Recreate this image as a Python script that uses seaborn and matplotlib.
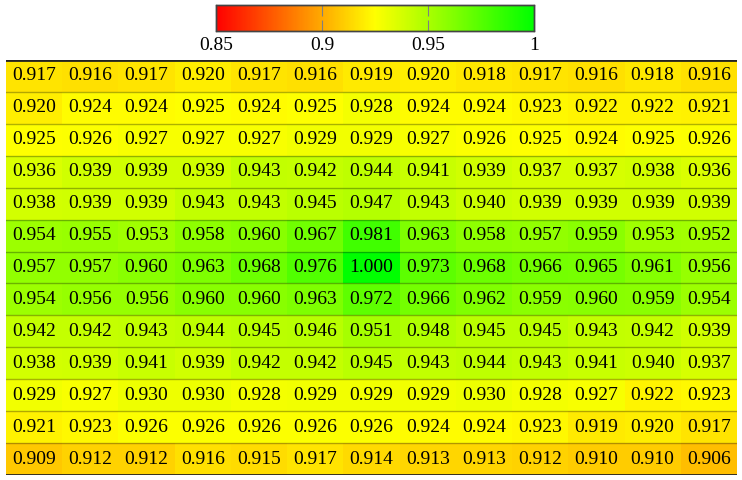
import numpy as np
import matplotlib
matplotlib.use('Agg')
import matplotlib.pyplot as plt
import seaborn as sns
from matplotlib.colors import LinearSegmentedColormap

# values read row by row (top to bottom)
row01 = [0.917, 0.916, 0.917, 0.920, 0.917, 0.916, 0.919, 0.920, 0.918, 0.917, 0.916, 0.918, 0.916]
row02 = [0.920, 0.924, 0.924, 0.925, 0.924, 0.925, 0.928, 0.924, 0.924, 0.923, 0.922, 0.922, 0.921]
row03 = [0.925, 0.926, 0.927, 0.927, 0.927, 0.929, 0.929, 0.927, 0.926, 0.925, 0.924, 0.925, 0.926]
row04 = [0.936, 0.939, 0.939, 0.939, 0.943, 0.942, 0.944, 0.941, 0.939, 0.937, 0.937, 0.938, 0.936]
row05 = [0.938, 0.939, 0.939, 0.943, 0.943, 0.945, 0.947, 0.943, 0.940, 0.939, 0.939, 0.939, 0.939]
row06 = [0.954, 0.955, 0.953, 0.958, 0.960, 0.967, 0.981, 0.963, 0.958, 0.957, 0.959, 0.953, 0.952]
row07 = [0.957, 0.957, 0.960, 0.963, 0.968, 0.976, 1.000, 0.973, 0.968, 0.966, 0.965, 0.961, 0.956]
row08 = [0.954, 0.956, 0.956, 0.960, 0.960, 0.963, 0.972, 0.966, 0.962, 0.959, 0.960, 0.959, 0.954]
row09 = [0.942, 0.942, 0.943, 0.944, 0.945, 0.946, 0.951, 0.948, 0.945, 0.945, 0.943, 0.942, 0.939]
row10 = [0.938, 0.939, 0.941, 0.939, 0.942, 0.942, 0.945, 0.943, 0.944, 0.943, 0.941, 0.940, 0.937]
row11 = [0.929, 0.927, 0.930, 0.930, 0.928, 0.929, 0.929, 0.929, 0.930, 0.928, 0.927, 0.922, 0.923]
row12 = [0.921, 0.923, 0.926, 0.926, 0.926, 0.926, 0.926, 0.924, 0.924, 0.923, 0.919, 0.920, 0.917]
row13 = [0.909, 0.912, 0.912, 0.916, 0.915, 0.917, 0.914, 0.913, 0.913, 0.912, 0.910, 0.910, 0.906]

cbar_ticks = [0.85, 0.9, 0.95, 1.0]
cbar_ticklabels = ['0.85', '0.9', '0.95', '1']
vmin, vmax = 0.85, 1.0

data = np.array([row01, row02, row03, row04, row05, row06, row07,
                 row08, row09, row10, row11, row12, row13])

plt.rcParams['font.family'] = ['Liberation Serif', 'DejaVu Serif']

cmap = LinearSegmentedColormap.from_list('ryg', ['#ff0000', '#ffff00', '#00ff00'])

fig = plt.figure(figsize=(7.42, 4.8), dpi=100)
ax = fig.add_axes([6 / 742, 1 - 475 / 480, 731 / 742, 415 / 480])
cax = fig.add_axes([216 / 742, 1 - 31 / 480, 318 / 742, 26 / 480])

sns.heatmap(data, ax=ax, cbar_ax=cax, cmap=cmap, vmin=vmin, vmax=vmax,
            annot=True, fmt='.3f', annot_kws={'fontsize': 14, 'color': 'black'},
            xticklabels=False, yticklabels=False,
            cbar_kws={'orientation': 'horizontal', 'ticks': cbar_ticks})

# row separators
nrows = data.shape[0]
for r in range(1, nrows):
    ax.axhline(r, color='black', alpha=0.3, lw=1)
ax.axhline(0, color='#222222', lw=2)
ax.axhline(nrows, color='#222222', lw=2)
for s in ax.spines.values():
    s.set_visible(False)

cax.set_xticklabels(cbar_ticklabels)
cax.tick_params(axis='x', direction='in', length=8, width=0.8, color='gray',
                labelsize=14, pad=4, top=True)
for s in cax.spines.values():
    s.set_visible(True)
    s.set_color('#444444')
    s.set_linewidth(1)

fig.savefig('out.png', dpi=100)
